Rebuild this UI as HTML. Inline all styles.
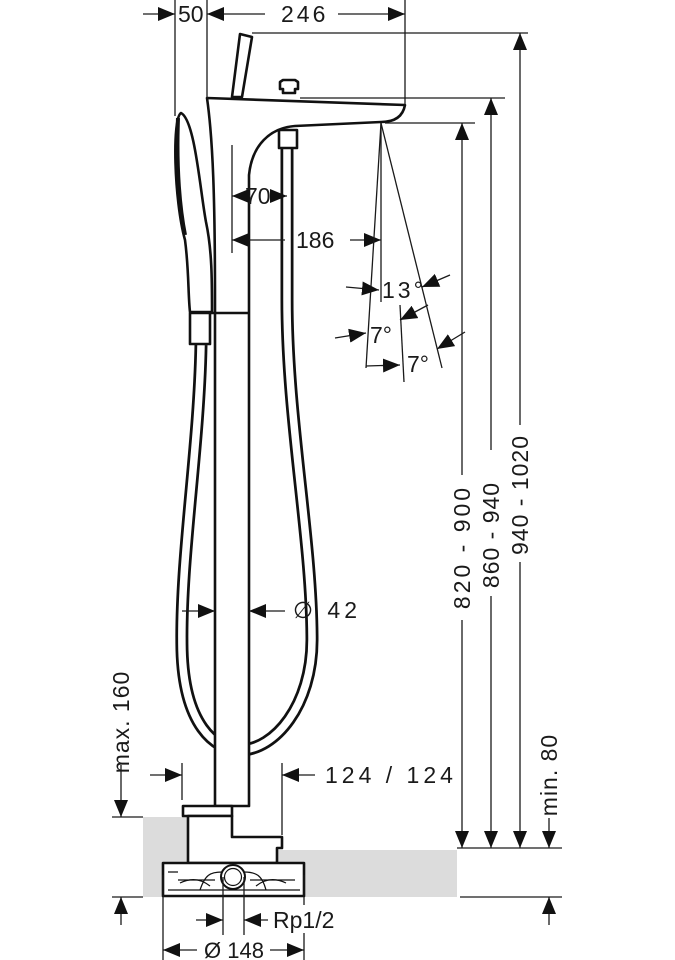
<!DOCTYPE html>
<html><head><meta charset="utf-8"><style>
html,body{margin:0;padding:0;background:#fff;}
svg{display:block;}
text{font-family:"Liberation Sans",sans-serif;fill:#1a1a1a;}
</style></head><body>
<svg width="675" height="960" viewBox="0 0 675 960" xmlns="http://www.w3.org/2000/svg">
<defs>
<marker id="a" markerUnits="userSpaceOnUse" markerWidth="18" markerHeight="15" refX="17" refY="7" orient="auto">
<path d="M0,0 L17,7 L0,14 z" fill="#111"/></marker>
</defs>
<polygon points="143,817 190,817 190,850 457,850 457,897 143,897" fill="#dcdcdc"/>
<g stroke="#111" stroke-width="2.6" fill="#fff" stroke-linejoin="round">
<path d="M201 345 C199 450,180 560,182 650 C184 725,215 750,240 750 C275 750,312 705,312 640 C312 540,287 420,287 300 L287 148" fill="none" stroke-width="13"/>
<path d="M201 345 C199 450,180 560,182 650 C184 725,215 750,240 750 C275 750,312 705,312 640 C312 540,287 420,287 300 L287 148" fill="none" stroke="#fff" stroke-width="7.5"/>
<path d="M240 34 L252 37 L242 97 L232 97 Z"/>
<path d="M283 93 L295 93 L295 89 L298 89 L298 82 L295 80 L283 80 L280 82 L280 89 L283 89 Z"/>
<path d="M207 98 L405 105 C403 116,395 122,381 122 L295 126 C270 128,252 145,249 175 L249 806 L215 806 L215 300 C215 200,213 140,207 98 Z"/>
<rect x="279" y="130" width="18" height="18"/>
<path d="M181 113 C172 118,174 200,185 240 C189 270,188 295,190 312 L212 312 C212 280,212 250,206 222 C200 190,195 120,181 113 Z"/>
<path d="M178 118 C176 170,180 210,185 235" fill="none" stroke-width="4"/>
<rect x="190" y="313" width="20" height="31"/>
<line x1="210" y1="313" x2="249" y2="313"/>
<path d="M183 806 L232 806 L232 816 L183 816 Z"/>
<path d="M188 816 L232 816 L232 837 L282 837 L282 848 L277 848 L277 863 L188 863 Z"/>
<rect x="163" y="863" width="141" height="33"/>
</g>
<g stroke="#111" stroke-width="1.2" fill="none">
<path d="M168 872 L178 872 M168 890 L300 890 M178 880 L215 880 M250 880 L295 880"/>
<path d="M200 890 C205 875,210 872,222 872 M266 890 C262 875,256 872,244 872"/>
<path d="M180 883 C190 878,200 878,210 886 M286 883 C276 878,266 878,256 886"/>
<circle cx="233" cy="877" r="12" fill="#fff" stroke-width="2"/>
<circle cx="233" cy="877" r="8.5"/>
</g>
<g stroke="#1a1a1a" stroke-width="1.3" fill="none">
<line x1="143" y1="14" x2="175" y2="14" marker-end="url(#a)"/>
<line x1="175" y1="0" x2="175" y2="116"/>
<line x1="207" y1="0" x2="207" y2="98"/>
<line x1="405" y1="0" x2="405" y2="105"/>
<line x1="265" y1="14" x2="207" y2="14" marker-end="url(#a)"/>
<line x1="338" y1="14" x2="405" y2="14" marker-end="url(#a)"/>
<line x1="252" y1="33" x2="528" y2="33"/>
<line x1="300" y1="98" x2="505" y2="98"/>
<line x1="385" y1="123" x2="475" y2="123"/>
<line x1="462" y1="475" x2="462" y2="123" marker-end="url(#a)"/>
<line x1="462" y1="620" x2="462" y2="848" marker-end="url(#a)"/>
<line x1="491" y1="450" x2="491" y2="98" marker-end="url(#a)"/>
<line x1="491" y1="596" x2="491" y2="848" marker-end="url(#a)"/>
<line x1="520" y1="425" x2="520" y2="33" marker-end="url(#a)"/>
<line x1="520" y1="562" x2="520" y2="848" marker-end="url(#a)"/>
<line x1="549" y1="818" x2="549" y2="848" marker-end="url(#a)"/>
<line x1="457" y1="848" x2="562" y2="848"/>
<line x1="460" y1="897" x2="562" y2="897"/>
<line x1="549" y1="925" x2="549" y2="897" marker-end="url(#a)"/>
<line x1="121" y1="765" x2="121" y2="817" marker-end="url(#a)"/>
<line x1="112" y1="817" x2="143" y2="817"/>
<line x1="112" y1="897" x2="143" y2="897"/>
<line x1="121" y1="925" x2="121" y2="897" marker-end="url(#a)"/>
<line x1="150" y1="775" x2="182" y2="775" marker-end="url(#a)"/>
<line x1="182" y1="763" x2="182" y2="800"/>
<line x1="282" y1="763" x2="282" y2="835"/>
<line x1="315" y1="775" x2="282" y2="775" marker-end="url(#a)"/>
<line x1="232" y1="145" x2="232" y2="253"/>
<line x1="250" y1="196" x2="232" y2="196" marker-end="url(#a)"/>
<line x1="270" y1="196" x2="287" y2="196" marker-end="url(#a)"/>
<line x1="285" y1="240" x2="232" y2="240" marker-end="url(#a)"/>
<line x1="350" y1="240" x2="381" y2="240" marker-end="url(#a)"/>
<line x1="182" y1="611" x2="215" y2="611" marker-end="url(#a)"/>
<line x1="285" y1="611" x2="249" y2="611" marker-end="url(#a)"/>
<line x1="381" y1="123" x2="381" y2="302"/>
<line x1="381" y1="123" x2="366" y2="368"/>
<line x1="381" y1="123" x2="442" y2="368"/>
<line x1="400" y1="305" x2="404" y2="382"/>
<line x1="346" y1="287" x2="379" y2="290" marker-end="url(#a)"/>
<line x1="450" y1="275" x2="422" y2="287" marker-end="url(#a)"/>
<line x1="428" y1="305" x2="400" y2="320" marker-end="url(#a)"/>
<line x1="335" y1="338" x2="366" y2="333" marker-end="url(#a)"/>
<line x1="366" y1="366" x2="400" y2="365" marker-end="url(#a)"/>
<line x1="465" y1="332" x2="437" y2="349" marker-end="url(#a)"/>
<line x1="223" y1="877" x2="223" y2="935"/>
<line x1="244" y1="877" x2="244" y2="935"/>
<line x1="196" y1="920" x2="223" y2="920" marker-end="url(#a)"/>
<line x1="268" y1="920" x2="244" y2="920" marker-end="url(#a)"/>
<line x1="163" y1="875" x2="163" y2="960"/>
<line x1="304" y1="875" x2="304" y2="905"/>
<line x1="304" y1="933" x2="304" y2="960"/>
<line x1="197" y1="950" x2="163" y2="950" marker-end="url(#a)"/>
<line x1="270" y1="950" x2="304" y2="950" marker-end="url(#a)"/>
</g>
<g font-size="23">
<text x="178" y="22">50</text>
<text x="281" y="22" letter-spacing="3">246</text>
<text x="245" y="204">70</text>
<text x="296" y="248">186</text>
<text x="382" y="298" letter-spacing="3">13°</text>
<text x="370" y="343">7°</text>
<text x="407" y="372">7°</text>
<text x="293" y="618" letter-spacing="4">∅ 42</text>
<text x="325" y="783" letter-spacing="4">124 / 124</text>
<text x="273" y="928">Rp1/2</text>
<text x="234" y="958" text-anchor="middle" font-size="22">Ø 148</text>
<text transform="translate(470,547) rotate(-90)" text-anchor="middle" letter-spacing="3">820 - 900</text>
<text transform="translate(499,535) rotate(-90)" text-anchor="middle" letter-spacing="1">860 - 940</text>
<text transform="translate(528,495) rotate(-90)" text-anchor="middle" letter-spacing="1">940 - 1020</text>
<text transform="translate(129,722) rotate(-90)" text-anchor="middle" letter-spacing="1">max. 160</text>
<text transform="translate(557,775) rotate(-90)" text-anchor="middle" letter-spacing="1">min. 80</text>
</g>
</svg>
</body></html>
